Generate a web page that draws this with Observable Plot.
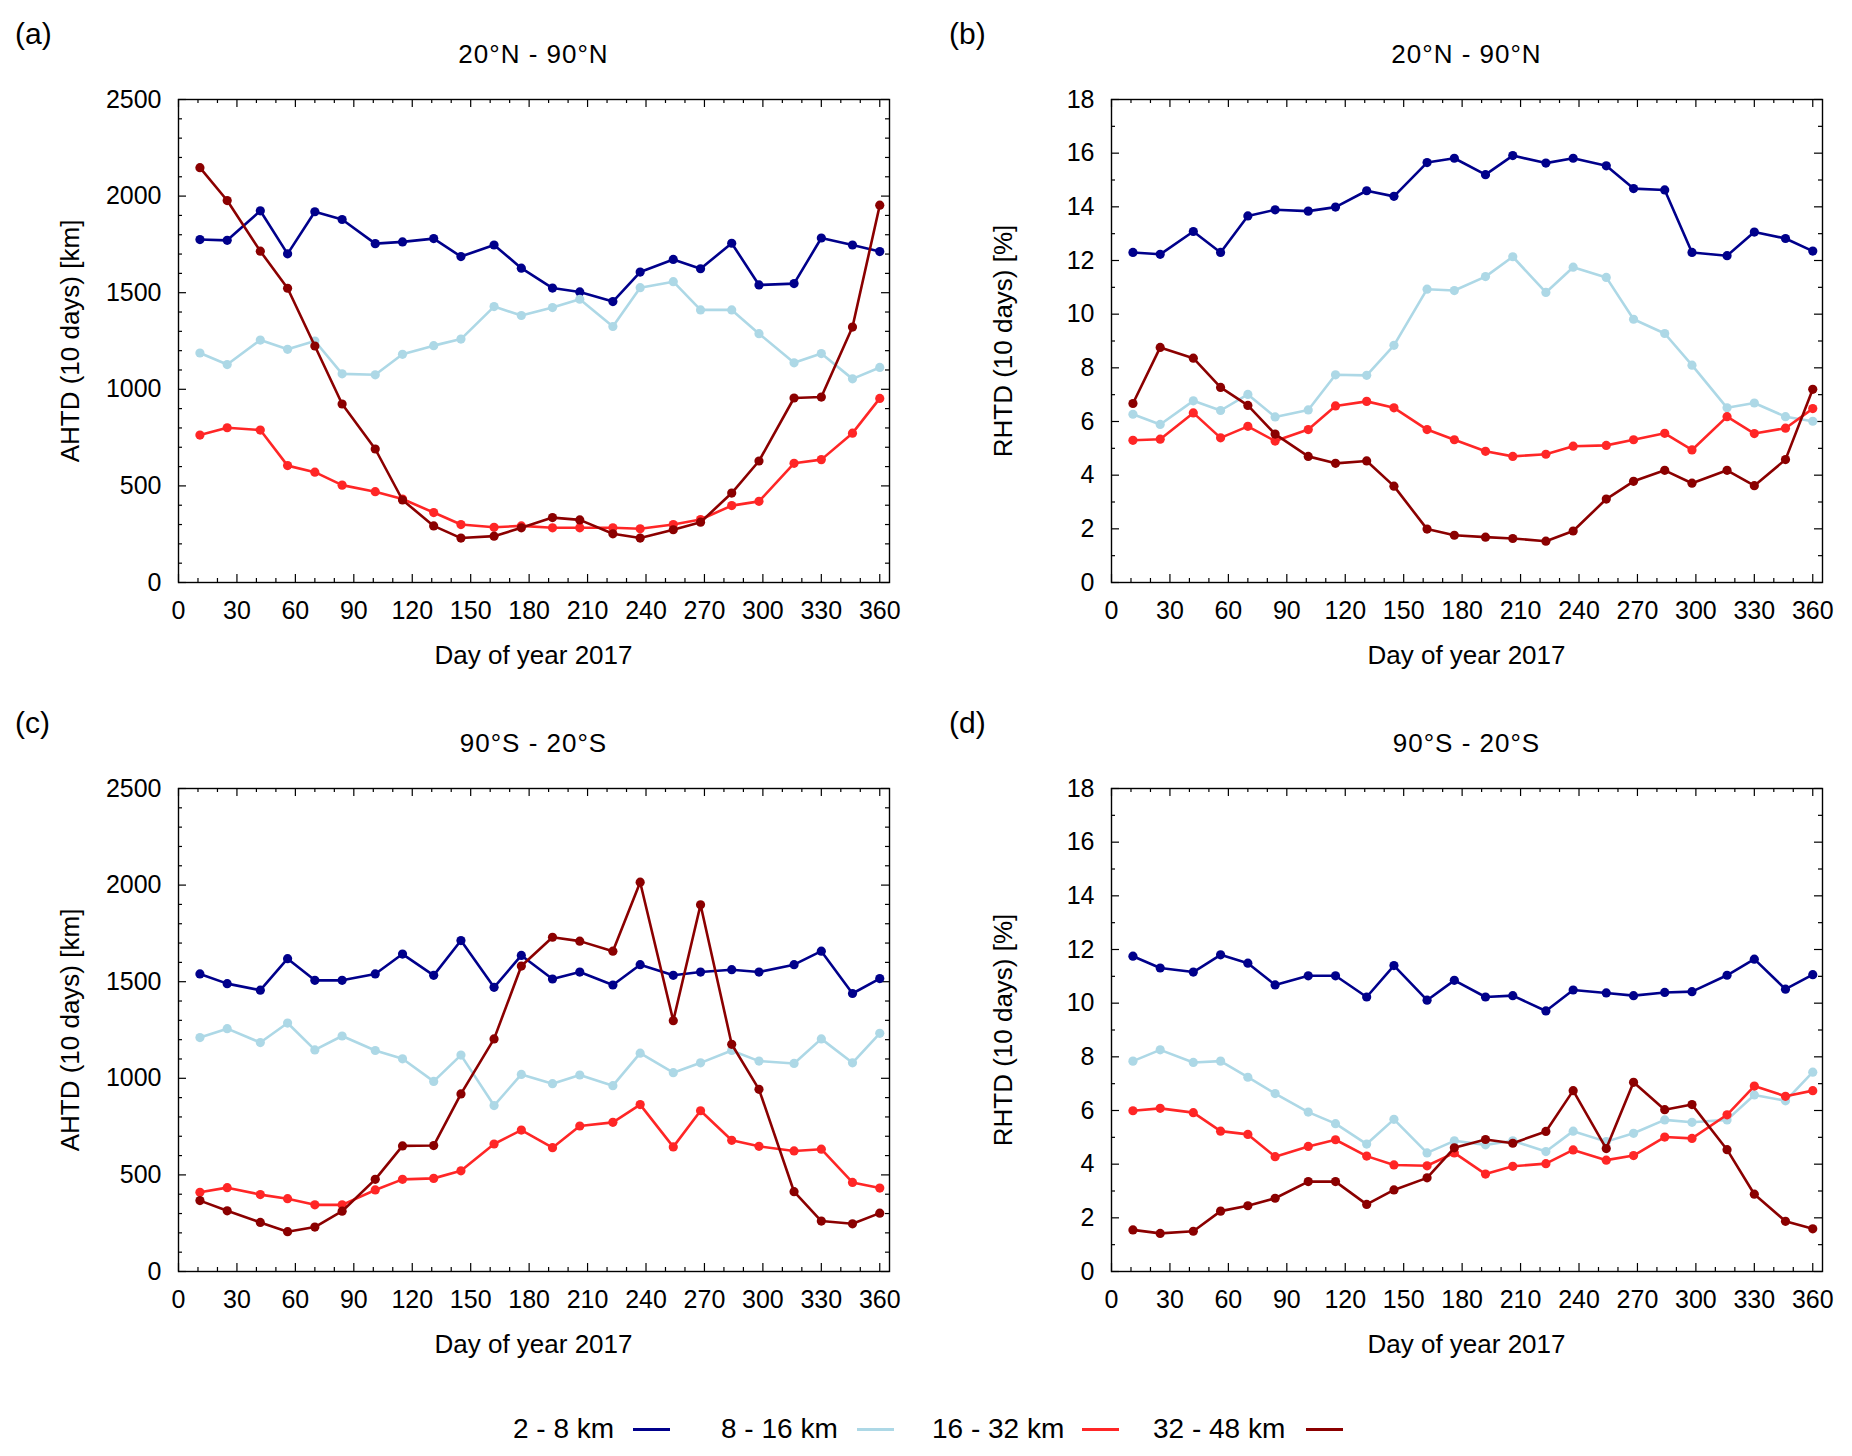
<!DOCTYPE html>
<html>
<head>
<meta charset="utf-8">
<script src="https://cdn.jsdelivr.net/npm/d3@7"></script>
<script src="https://cdn.jsdelivr.net/npm/@observablehq/plot@0.6"></script>
<style>
  body { margin: 0; background: #fff; }
  #root { position: relative; width: 1852px; height: 1456px; background: #fff;
          font-family: "Liberation Sans", Arial, Helvetica, sans-serif; color: #000; overflow: hidden; }
  .abs { position: absolute; white-space: nowrap; line-height: 1; }
  .svgbox { position: absolute; }
</style>
</head>
<body>
<div id="root"></div>
<script>
// ---------------- data ----------------
const days = [11, 25, 42, 56, 70, 84, 101, 115, 131, 145, 162, 176, 192, 206, 223, 237, 254, 268, 284, 298, 316, 330, 346, 360];

const seriesNames = ["2 - 8 km", "8 - 16 km", "16 - 32 km", "32 - 48 km"];
const seriesColors = ["#00008b", "#add8e6", "#ff2626", "#8b0000"];

const panelLetters = ["(a)", "(b)", "(c)", "(d)"];
const panelTitles = ["20°N - 90°N", "20°N - 90°N", "90°S - 20°S", "90°S - 20°S"];
const yLabels = ["AHTD (10 days) [km]", "RHTD (10 days) [%]", "AHTD (10 days) [km]", "RHTD (10 days) [%]"];
const xLabel = "Day of year 2017";

const xTicks = [0, 30, 60, 90, 120, 150, 180, 210, 240, 270, 300, 330, 360];
const ahtdTicks = [0, 500, 1000, 1500, 2000, 2500];
const rhtdTicks = [0, 2, 4, 6, 8, 10, 12, 14, 16, 18];

// (a) AHTD, 20N-90N
const ahtdNorth_2_8   = [1775,1771,1924,1701,1919,1879,1754,1763,1780,1687,1747,1627,1524,1504,1454,1607,1672,1624,1756,1540,1547,1783,1747,1713];
const ahtdNorth_8_16  = [1188,1128,1255,1207,1250,1080,1075,1181,1226,1260,1428,1382,1423,1466,1325,1526,1557,1411,1411,1288,1137,1185,1054,1113];
const ahtdNorth_16_32 = [763,801,789,605,571,504,470,432,362,300,286,293,283,283,283,278,300,326,398,420,617,636,773,953];
const ahtdNorth_32_48 = [2147,1977,1715,1523,1224,924,691,427,293,230,240,283,336,324,252,230,273,312,463,629,955,960,1322,1953];

// (b) RHTD, 20N-90N
const rhtdNorth_2_8   = [12.30,12.23,13.08,12.30,13.66,13.89,13.84,13.99,14.60,14.39,15.65,15.81,15.20,15.91,15.63,15.81,15.53,14.68,14.63,12.30,12.18,13.06,12.82,12.35];
const rhtdNorth_8_16  = [6.27,5.89,6.77,6.41,7.01,6.17,6.43,7.74,7.72,8.84,10.93,10.88,11.40,12.14,10.81,11.75,11.37,9.81,9.28,8.10,6.51,6.69,6.18,6.01];
const rhtdNorth_16_32 = [5.30,5.34,6.32,5.39,5.82,5.27,5.70,6.58,6.75,6.51,5.70,5.32,4.89,4.70,4.78,5.08,5.11,5.32,5.56,4.94,6.18,5.55,5.75,6.48];
const rhtdNorth_32_48 = [6.67,8.76,8.36,7.27,6.60,5.53,4.70,4.44,4.53,3.59,1.99,1.76,1.69,1.64,1.54,1.92,3.11,3.77,4.18,3.70,4.18,3.61,4.58,7.20];

// (c) AHTD, 90S-20S
const ahtdSouth_2_8   = [1540,1490,1456,1619,1507,1507,1540,1643,1533,1713,1471,1636,1514,1550,1483,1588,1533,1550,1562,1550,1588,1658,1439,1516];
const ahtdSouth_8_16  = [1211,1257,1185,1286,1147,1219,1144,1101,984,1120,859,1020,972,1017,962,1130,1029,1080,1144,1089,1077,1204,1080,1233];
const ahtdSouth_16_32 = [410,434,398,377,345,345,422,477,482,521,660,732,641,753,772,864,645,832,679,648,624,633,461,432];
const ahtdSouth_32_48 = [367,314,254,206,230,312,477,650,652,919,1204,1581,1730,1710,1658,2015,1298,1898,1176,943,413,261,247,302];

// (d) RHTD, 90S-20S
const rhtdSouth_2_8   = [11.75,11.31,11.16,11.80,11.49,10.68,11.02,11.02,10.23,11.40,10.11,10.85,10.23,10.28,9.71,10.49,10.38,10.28,10.40,10.43,11.04,11.64,10.52,11.06];
const rhtdSouth_8_16  = [7.84,8.26,7.79,7.84,7.24,6.63,5.94,5.51,4.75,5.67,4.42,4.87,4.72,4.87,4.47,5.23,4.84,5.15,5.65,5.56,5.65,6.58,6.36,7.43];
const rhtdSouth_16_32 = [5.99,6.08,5.92,5.23,5.11,4.28,4.66,4.91,4.30,3.97,3.94,4.42,3.63,3.92,4.02,4.53,4.15,4.32,5.01,4.96,5.84,6.91,6.53,6.74];
const rhtdSouth_32_48 = [1.55,1.42,1.50,2.25,2.45,2.73,3.35,3.35,2.50,3.04,3.49,4.61,4.92,4.78,5.22,6.74,4.58,7.05,6.03,6.22,4.54,2.88,1.87,1.59];

// ---------------- layout ----------------
const root = document.getElementById("root");
const FW = 711, FH = 483;      // frame size
const MT = 99, MB = 108;       // margins top/bottom
const FONT = '"Liberation Sans", Arial, Helvetica, sans-serif';

function addText(txt, x, y, {size = 26, anchor = "middle", rotate = 0, spacing = 0} = {}) {
  const d = document.createElement("div");
  d.className = "abs";
  d.textContent = txt;
  d.style.left = x + "px";
  d.style.top = y + "px";
  d.style.fontSize = size + "px";
  if (spacing) d.style.letterSpacing = spacing + "px";
  const tx = anchor === "middle" ? "-50%" : "0";
  d.style.transform = `translate(${tx}, -50%)`;
  if (rotate) {
    d.style.transform = `translate(-50%, -50%) rotate(${rotate}deg)`;
    d.style.transformOrigin = "50% 50%";
  }
  root.appendChild(d);
  return d;
}

function makePanel(idx, seriesValues, yMax, yTicks, yMinorStep) {
  const col = idx % 2, row = Math.floor(idx / 2);
  const left = col === 0 ? 0 : 926;
  const top = row === 0 ? 0 : 689;
  const mLeft = col === 0 ? 178 : 185;
  const mRight = 926 - mLeft - FW;

  const data = [];
  seriesValues.forEach((arr, s) => arr.forEach((v, i) => data.push({day: days[i], v, s: seriesNames[s]})));

  const xMinor = d3.range(10, 365, 10).filter(d => d % 30 !== 0);
  const yMinor = d3.range(0, yMax + 1e-9, yMinorStep).filter(d => !yTicks.some(t => Math.abs(t - d) < 1e-9));

  const tickStyle = {stroke: "#000", strokeWidth: 1.2};
  const marks = [
    Plot.axisX({ticks: xTicks, tickSize: 0, tickPadding: 19, label: null, fontSize: 25, fill: "#000", tickFormat: d => String(d)}),
    Plot.axisY({ticks: yTicks, tickSize: 0, tickPadding: 17, label: null, fontSize: 25, fill: "#000", tickFormat: d => String(d)}),
    // inward major / minor ticks, mirrored on all four sides
    Plot.tickX(xTicks, {x: d => d, insetTop: FH - 8, ...tickStyle}),
    Plot.tickX(xTicks, {x: d => d, insetBottom: FH - 8, ...tickStyle}),
    Plot.tickX(xMinor, {x: d => d, insetTop: FH - 4, ...tickStyle}),
    Plot.tickX(xMinor, {x: d => d, insetBottom: FH - 4, ...tickStyle}),
    Plot.tickY(yTicks, {y: d => d, insetRight: FW - 8, ...tickStyle}),
    Plot.tickY(yTicks, {y: d => d, insetLeft: FW - 8, ...tickStyle}),
    Plot.tickY(yMinor, {y: d => d, insetRight: FW - 4, ...tickStyle}),
    Plot.tickY(yMinor, {y: d => d, insetLeft: FW - 4, ...tickStyle})
  ];
  seriesNames.forEach(name => {
    const sub = data.filter(d => d.s === name);
    marks.push(Plot.line(sub, {x: "day", y: "v", stroke: "s", strokeWidth: 2.6}));
    marks.push(Plot.dot(sub, {x: "day", y: "v", fill: "s", r: 4.6}));
  });
  marks.push(Plot.frame({stroke: "#000", strokeWidth: 1.4}));

  const chart = Plot.plot({
    width: 926, height: MT + FH + MB,
    marginLeft: mLeft, marginRight: mRight, marginTop: MT, marginBottom: MB,
    x: {domain: [0, 365]},
    y: {domain: [0, yMax]},
    color: {domain: seriesNames, range: seriesColors},
    style: {fontFamily: FONT, fontSize: "25px", color: "#000", background: "transparent", overflow: "visible"},
    marks
  });
  const box = document.createElement("div");
  box.className = "svgbox";
  box.style.left = left + "px";
  box.style.top = top + "px";
  box.appendChild(chart);
  root.appendChild(box);

  const cx = left + mLeft + FW / 2;
  const fy = top + MT;
  addText(panelLetters[idx], left + (col === 0 ? 15 : 23), top + 34, {size: 30, anchor: "start"});
  addText(panelTitles[idx], cx, top + 54, {size: 26, spacing: 1});
  addText(yLabels[idx], left + mLeft - 108, fy + FH / 2, {size: 26, rotate: -90});
  addText(xLabel, cx, fy + FH + 73, {size: 26});
}

makePanel(0, [ahtdNorth_2_8, ahtdNorth_8_16, ahtdNorth_16_32, ahtdNorth_32_48], 2500, ahtdTicks, 100);
makePanel(1, [rhtdNorth_2_8, rhtdNorth_8_16, rhtdNorth_16_32, rhtdNorth_32_48], 18, rhtdTicks, 1);
makePanel(2, [ahtdSouth_2_8, ahtdSouth_8_16, ahtdSouth_16_32, ahtdSouth_32_48], 2500, ahtdTicks, 100);
makePanel(3, [rhtdSouth_2_8, rhtdSouth_8_16, rhtdSouth_16_32, rhtdSouth_32_48], 18, rhtdTicks, 1);

// ---------------- legend ----------------
const legendY = 1429;
const legendTextX = [513, 721, 932, 1153];
const legendLineX = [633, 857, 1082, 1306];
seriesNames.forEach((name, i) => {
  addText(name, legendTextX[i], legendY, {size: 28, anchor: "start"});
  const ln = document.createElement("div");
  ln.className = "abs";
  ln.style.left = legendLineX[i] + "px";
  ln.style.top = (legendY - 1.5) + "px";
  ln.style.width = "37px";
  ln.style.height = "3px";
  ln.style.background = seriesColors[i];
  root.appendChild(ln);
});
</script>
</body>
</html>
